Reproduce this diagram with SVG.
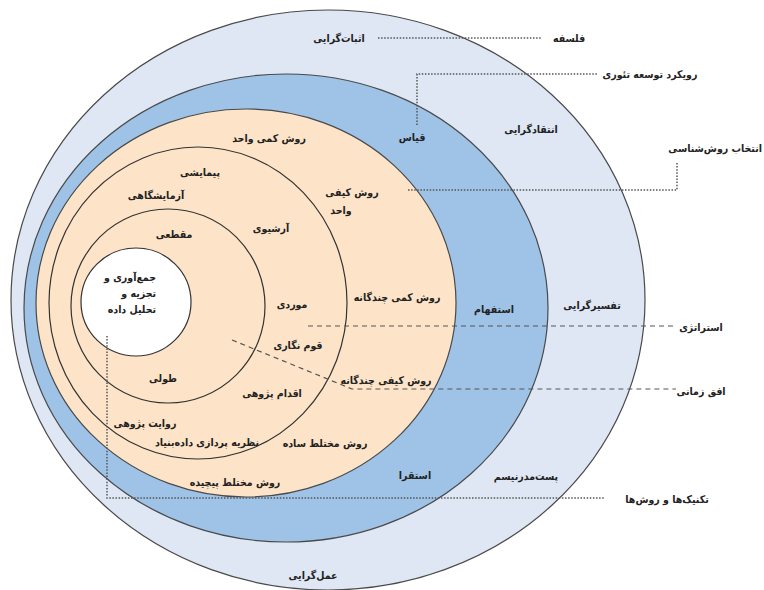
<svg xmlns="http://www.w3.org/2000/svg" width="764" height="590" viewBox="0 0 764 590">
<style>
.t{font-family:"DejaVu Sans Condensed","DejaVu Sans",sans-serif;font-size:10.5px;font-weight:bold;fill:#222;text-anchor:middle}
.e{text-anchor:end}
.ring{stroke:#4a4a4a;stroke-width:1.2}
.dot{fill:none;stroke:#555;stroke-width:1.5;stroke-dasharray:1.5 1.6}
.dash{fill:none;stroke:#555;stroke-width:1.2;stroke-dasharray:5 4}
</style>
<rect width="764" height="590" fill="#ffffff"/>
<g id="philosophy">
<ellipse class="ring" cx="328" cy="300" rx="317" ry="290" fill="#dfe7f4"/>
<text class="t" x="339" y="42">اثبات‌گرایی</text>
<text class="t" x="531" y="133">انتقادگرایی</text>
<text class="t" x="592" y="309">تفسیرگرایی</text>
<text class="t" x="526" y="480">پست‌مدرنیسم</text>
<text class="t" x="313" y="579">عمل‌گرایی</text>
</g>
<g id="approach">
<ellipse class="ring" cx="286" cy="308" rx="262" ry="234" fill="#9ec3e7"/>
<text class="t" x="412" y="141">قیاس</text>
<text class="t" x="494" y="313">استفهام</text>
<text class="t" x="415" y="479">استقرا</text>
</g>
<g id="methodology">
<ellipse class="ring" cx="246" cy="303" rx="210" ry="194" fill="#fde4c9"/>
<text class="t" x="269" y="142">روش کمی واحد</text>
<text class="t" x="352" y="196">روش کیفی</text>
<text class="t" x="341" y="214">واحد</text>
<text class="t" x="397" y="301">روش کمی چندگانه</text>
<text class="t" x="386" y="384">روش کیفی چندگانه</text>
<text class="t" x="325" y="447">روش مختلط ساده</text>
<text class="t" x="235" y="486">روش مختلط پیچیده</text>
</g>
<g id="strategy">
<ellipse cx="198" cy="303" rx="149" ry="156" fill="none" stroke="#333" stroke-width="1.2"/>
<text class="t" x="200" y="176">پیمایشی</text>
<text class="t" x="156" y="199">آزمایشگاهی</text>
<text class="t" x="271" y="232">آرشیوی</text>
<text class="t" x="292" y="308">موردی</text>
<text class="t" x="298" y="349">قوم نگاری</text>
<text class="t" x="272" y="397">اقدام پژوهی</text>
<text class="t" x="145" y="427">روایت پژوهی</text>
<text class="t" x="207" y="446">نظریه پردازی داده‌بنیاد</text>
</g>
<g id="time-horizon">
<ellipse cx="168" cy="306" rx="97" ry="97" fill="none" stroke="#333" stroke-width="1.2"/>
<text class="t" x="174" y="238">مقطعی</text>
<text class="t" x="163" y="382">طولی</text>
</g>
<g id="techniques">
<ellipse cx="136" cy="302" rx="55" ry="54" fill="#ffffff" stroke="#333" stroke-width="1.2"/>
<text class="t e" x="156" y="281">جمع‌آوری و</text>
<text class="t e" x="156" y="297">تجزیه و</text>
<text class="t e" x="156" y="313">تحلیل داده</text>
</g>
<g id="connectors">
<path class="dot" d="M378 38H542"/>
<path class="dot" d="M417 125V74H597"/>
<path class="dot" d="M408 190H677V162"/>
<path class="dash" d="M308 326H676"/>
<path class="dash" d="M232 340L352 389H676"/>
<path class="dot" d="M107 336V498H605"/>
</g>
<g id="labels">
<text class="t" x="569" y="42">فلسفه</text>
<text class="t" x="650" y="78">رویکرد توسعه تئوری</text>
<text class="t e" x="762" y="152">انتخاب روش‌شناسی</text>
<text class="t" x="701" y="331">استراتژی</text>
<text class="t" x="701" y="395">افق زمانی</text>
<text class="t" x="667" y="503">تکنیک‌ها و روش‌ها</text>
</g>
</svg>
